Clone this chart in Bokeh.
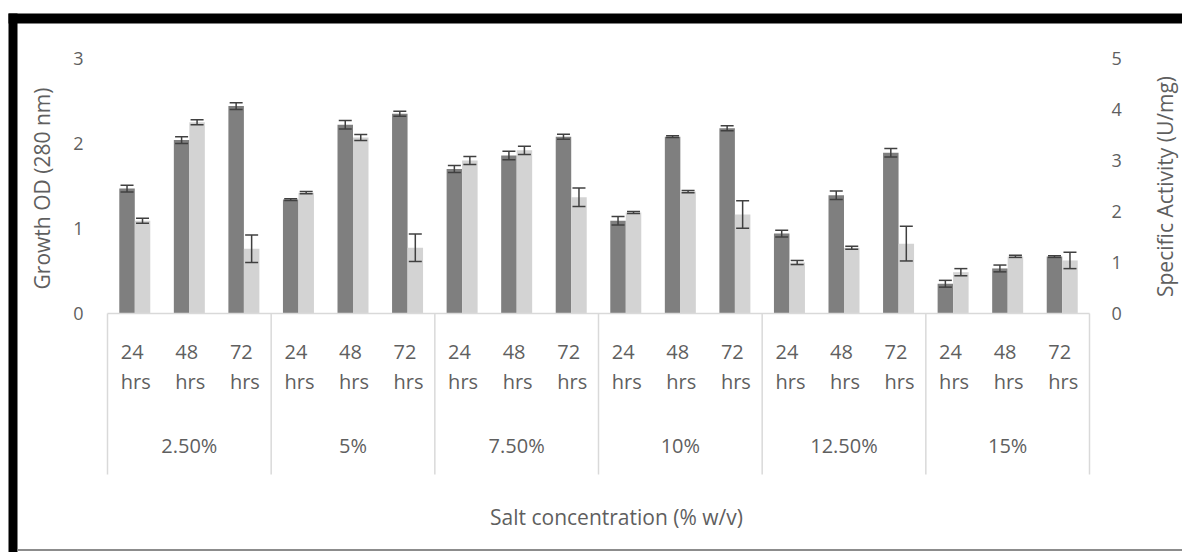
import numpy as np
from bokeh.plotting import figure
from bokeh.models import Range1d, ColumnDataSource, Whisker, TeeHead
from bokeh.core.properties import value
from bokeh.embed import file_html
from bokeh.resources import INLINE

# ---------------- data ----------------
groups = ["2.50%", "5%", "7.50%", "10%", "12.50%", "15%"]
times = ["24", "48", "72"]
time_unit = "hrs"
growth_od = [1.47, 2.04, 2.44, 1.34, 2.22, 2.35, 1.70, 1.86, 2.08,
             1.09, 2.08, 2.18, 0.94, 1.39, 1.89, 0.35, 0.53, 0.67]
growth_err = [0.04, 0.04, 0.04, 0.01, 0.05, 0.03, 0.04, 0.05, 0.03,
              0.05, 0.01, 0.03, 0.04, 0.05, 0.05, 0.04, 0.04, 0.01]
activity = [1.82, 3.75, 1.27, 2.37, 3.45, 1.29, 3.00, 3.20, 2.28,
            1.98, 2.39, 1.94, 1.00, 1.29, 1.37, 0.81, 1.12, 1.04]
activity_err = [0.05, 0.05, 0.27, 0.02, 0.06, 0.27, 0.08, 0.08, 0.18,
                0.02, 0.02, 0.27, 0.04, 0.03, 0.34, 0.07, 0.02, 0.16]
left_ticks = [0, 1, 2, 3]
right_ticks = [0, 1, 2, 3, 4, 5]
y_title_left = "Growth OD (280 nm)"
y_title_right = "Specific Activity (U/mg)"
x_title = "Salt concentration (% w/v)"

# ---------------- layout constants (pixels) ----------------
W, H = 1182, 552
FL, FR, FT, FB = 107, 1089, 58, 313          # plot area edges
n = len(groups) * len(times)
PXX = (FR - FL) / n                          # px per category
PXY = (FB - FT) / left_ticks[-1]             # px per left-axis unit
PXR = (FB - FT) / right_ticks[-1]            # px per right-axis unit


def dx(px):
    return (px - FL) / PXX


def dy(py):
    return (FB - py) / PXY


def dyr(py):
    return (FB - py) / PXR


FONT = value("Open Sans")
TXT = "#5f5f5f"
DARK = "#7f7f7f"
LIGHT = "#d3d3d3"
ERR = "#404040"
SEP = "#d9d9d9"

p = figure(width=W, height=H, output_backend="svg", toolbar_location=None,
           x_range=Range1d(dx(0), dx(W)), y_range=Range1d(dy(H), dy(0)),
           x_axis_location=None, y_axis_location=None, min_border=0)
p.extra_y_ranges = {"right": Range1d(dyr(H), dyr(0))}
p.outline_line_color = None
p.grid.visible = False
p.background_fill_color = "white"
p.border_fill_color = "white"

# picture frame (thick black left/top, thin grey bottom)
p.quad(left=[dx(8)], right=[dx(17)], top=[dy(13)], bottom=[dy(H)],
       fill_color="black", line_color=None)
p.quad(left=[dx(8)], right=[dx(W)], top=[dy(13)], bottom=[dy(23)],
       fill_color="black", line_color=None)
p.quad(left=[dx(17)], right=[dx(W)], top=[dy(548.5)], bottom=[dy(550.5)],
       fill_color="#8c8c8c", line_color=None)

# bars
idx = np.arange(n)
xc = idx + 0.5
off, bw = 0.142, 0.284
g_od = np.array(growth_od)
g_er = np.array(growth_err)
a_v = np.array(activity)
a_er = np.array(activity_err)
src_d = ColumnDataSource(dict(x=xc - off, top=g_od, lo=g_od - g_er, hi=g_od + g_er))
src_l = ColumnDataSource(dict(x=xc + off, top=a_v, lo=a_v - a_er, hi=a_v + a_er))
p.vbar(x="x", top="top", bottom=0, width=bw, source=src_d,
       fill_color=DARK, line_color=None)
p.vbar(x="x", top="top", bottom=0, width=bw, source=src_l,
       fill_color=LIGHT, line_color=None, y_range_name="right")

for src, rn in ((src_d, "default"), (src_l, "right")):
    w = Whisker(source=src, base="x", lower="lo", upper="hi", dimension="height",
                line_color=ERR, line_width=1.5, y_range_name=rn, level="overlay",
                upper_head=TeeHead(size=13, line_color=ERR, line_width=1.5),
                lower_head=TeeHead(size=13, line_color=ERR, line_width=1.5))
    p.add_layout(w)

# category axis: baseline and group separators
p.segment(x0=[0], x1=[n], y0=[0], y1=[0], line_color=SEP, line_width=1.5)
bounds = [g * len(times) for g in range(len(groups) + 1)]
p.segment(x0=bounds, x1=bounds, y0=[0] * len(bounds), y1=[dy(474)] * len(bounds),
          line_color=SEP, line_width=1.5)

# category labels (number on first line, unit on second)
p.text(x=xc, y=[dy(351)] * n, text=[times[i % len(times)] for i in range(n)],
       x_offset=-14, text_align="left", text_baseline="middle",
       text_color=TXT, text_font=FONT, text_font_size="20px")
p.text(x=xc, y=[dy(381)] * n, text=[time_unit] * n,
       x_offset=-14, text_align="left", text_baseline="middle",
       text_color=TXT, text_font=FONT, text_font_size="20px")
gx = [g * len(times) + len(times) / 2 for g in range(len(groups))]
p.text(x=gx, y=[dy(445)] * len(groups), text=groups,
       text_align="center", text_baseline="middle",
       text_color=TXT, text_font=FONT, text_font_size="20px")

# y tick labels
p.text(x=[dx(83)] * len(left_ticks), y=left_ticks, text=[str(t) for t in left_ticks],
       text_align="right", text_baseline="middle",
       text_color=TXT, text_font=FONT, text_font_size="18px")
p.text(x=[dx(1111)] * len(right_ticks), y=right_ticks, text=[str(t) for t in right_ticks],
       text_align="left", text_baseline="middle", y_range_name="right",
       text_color=TXT, text_font=FONT, text_font_size="18px")

# titles
p.text(x=[dx(41)], y=[dy(188)], text=[y_title_left], angle=np.pi / 2,
       text_align="center", text_baseline="middle",
       text_color=TXT, text_font=FONT, text_font_size="21px")
p.text(x=[dx(1164)], y=[dy(186)], text=[y_title_right], angle=np.pi / 2,
       text_align="center", text_baseline="middle",
       text_color=TXT, text_font=FONT, text_font_size="21px")
p.text(x=[dx(616)], y=[dy(516)], text=[x_title],
       text_align="center", text_baseline="middle",
       text_color=TXT, text_font=FONT, text_font_size="21px")

open("out.html", "w").write(file_html(p, INLINE))
